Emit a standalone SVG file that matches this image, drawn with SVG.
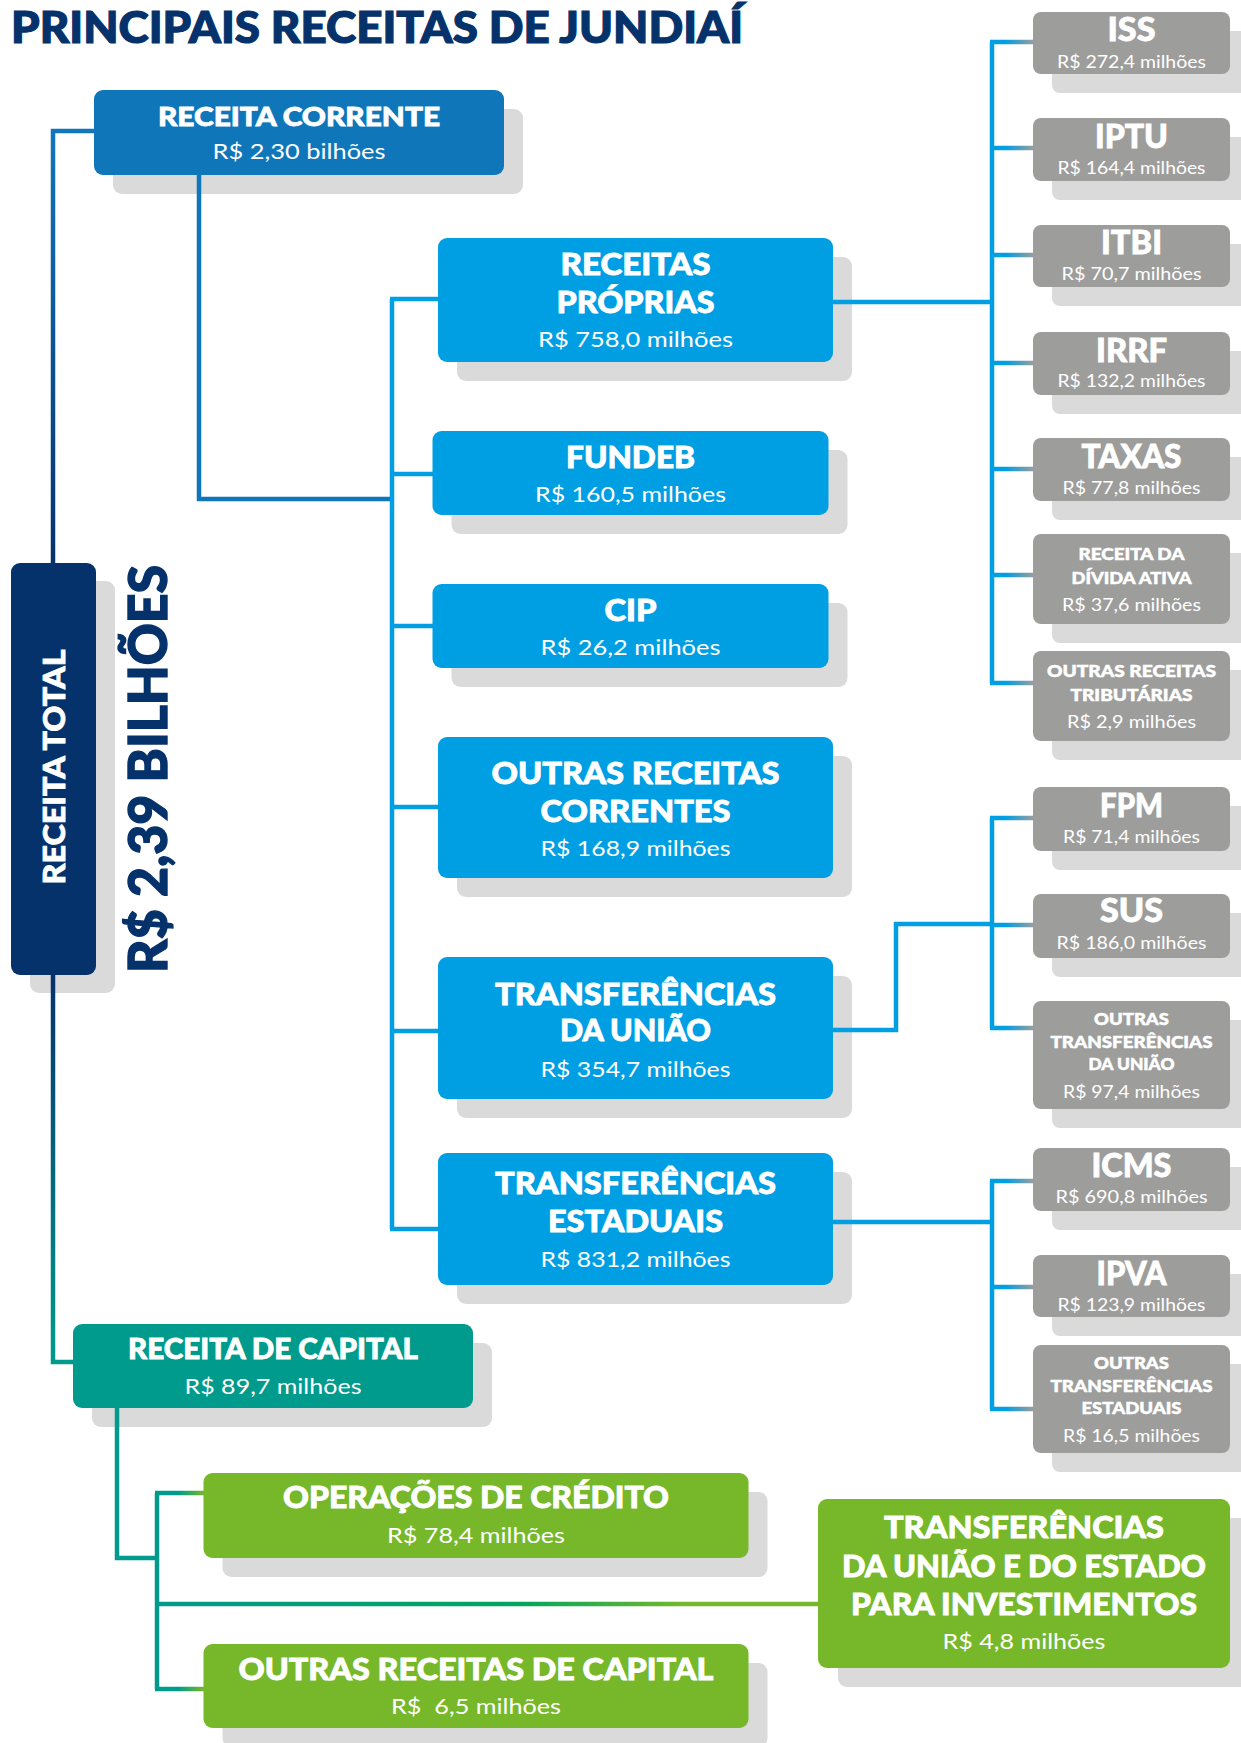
<svg xmlns="http://www.w3.org/2000/svg" width="1241" height="1743" viewBox="0 0 1241 1743">
<style>
.t{font-family:Lato,"Open Sans","Liberation Sans",sans-serif;font-weight:900;fill:#fff;text-anchor:middle;stroke:#fff;stroke-width:0.8px}
.v{font-family:Lato,"Open Sans","Liberation Sans",sans-serif;font-weight:400;fill:#fff;text-anchor:middle}
.sh{fill:#dadada}
.blue{fill:#009fe3}
.gray{fill:#9d9d9c}
.green{fill:#76b82a}
.c{fill:none;stroke-width:4.5}
.cb{stroke:#009fe3}
.gt{font-size:32px}
.gs{font-size:16.5px;stroke-width:0.5px}
.gv{font-size:17.5px}
.bt{font-size:30px}
.bv{font-size:22px}
</style>
<defs>
<linearGradient id="gBr" gradientUnits="userSpaceOnUse" x1="1006" y1="0" x2="1034" y2="0"><stop offset="0" stop-color="#009fe3"/><stop offset="1" stop-color="#9d9d9c"/></linearGradient>
<linearGradient id="gTop" gradientUnits="userSpaceOnUse" x1="0" y1="131" x2="0" y2="563"><stop offset="0" stop-color="#1176bb"/><stop offset="1" stop-color="#06326b"/></linearGradient>
<linearGradient id="gBot" gradientUnits="userSpaceOnUse" x1="0" y1="975" x2="0" y2="1362"><stop offset="0" stop-color="#06326b"/><stop offset="1" stop-color="#009b8c"/></linearGradient>
<linearGradient id="gGr" gradientUnits="userSpaceOnUse" x1="178" y1="0" x2="204" y2="0"><stop offset="0" stop-color="#009b8c"/><stop offset="1" stop-color="#76b82a"/></linearGradient>
<linearGradient id="gLong" gradientUnits="userSpaceOnUse" x1="157" y1="0" x2="817" y2="0"><stop offset="0" stop-color="#009b8c"/><stop offset="0.55" stop-color="#00a55f"/><stop offset="0.8" stop-color="#76b82a"/></linearGradient>
</defs>
<rect width="1241" height="1743" fill="#fff"/>
<text x="11" y="43" font-family="Lato,'Open Sans','Liberation Sans',sans-serif" font-weight="900" font-size="43" fill="#06326b" stroke="#06326b" stroke-width="1.2" textLength="732" lengthAdjust="spacingAndGlyphs">PRINCIPAIS RECEITAS DE JUNDIAÍ</text>

<g id="receita-total">
<rect class="sh" x="30" y="581" width="85" height="412" rx="9"/>
<rect x="11" y="563" width="85" height="412" rx="9" fill="#06326b"/>
<text class="t" transform="translate(65,767) rotate(-90)" font-size="31" textLength="235" lengthAdjust="spacingAndGlyphs">RECEITA TOTAL</text>
</g>
<g id="total-valor">
<text transform="translate(167,769) rotate(-90)" font-family="Lato,'Open Sans','Liberation Sans',sans-serif" font-weight="900" font-size="54" fill="#06326b" stroke="#06326b" stroke-width="1.4" text-anchor="middle" textLength="408" lengthAdjust="spacingAndGlyphs">R$ 2,39 BILHÕES</text>
</g>

<g id="receita-corrente">
<rect class="sh" x="113" y="109" width="410" height="85" rx="9"/>
<rect x="94" y="90" width="410" height="85" rx="9" fill="#0f76ba"/>
<text class="t" x="299" y="126" font-size="27" textLength="282" lengthAdjust="spacingAndGlyphs">RECEITA CORRENTE</text>
<text class="v bv" x="299" y="159" textLength="173" lengthAdjust="spacingAndGlyphs">R$ 2,30 bilhões</text>
</g>

<g id="receitas-proprias">
<rect class="sh" x="457" y="257" width="395" height="124" rx="9"/>
<rect class="blue" x="438" y="238" width="395" height="124" rx="9"/>
<text class="t bt" x="635.5" y="275" textLength="150" lengthAdjust="spacingAndGlyphs">RECEITAS</text>
<text class="t bt" x="635.5" y="313" textLength="158" lengthAdjust="spacingAndGlyphs">PRÓPRIAS</text>
<text class="v bv" x="635.5" y="347" textLength="195" lengthAdjust="spacingAndGlyphs">R$ 758,0 milhões</text>
</g>
<g id="fundeb">
<rect class="sh" x="451.5" y="450" width="396" height="84" rx="9"/>
<rect class="blue" x="432.5" y="431" width="396" height="84" rx="9"/>
<text class="t bt" x="630.5" y="468" textLength="129" lengthAdjust="spacingAndGlyphs">FUNDEB</text>
<text class="v bv" x="630.5" y="502" textLength="191" lengthAdjust="spacingAndGlyphs">R$ 160,5 milhões</text>
</g>
<g id="cip">
<rect class="sh" x="451.5" y="603" width="396" height="84" rx="9"/>
<rect class="blue" x="432.5" y="584" width="396" height="84" rx="9"/>
<text class="t bt" x="630.5" y="621" textLength="52" lengthAdjust="spacingAndGlyphs">CIP</text>
<text class="v bv" x="630.5" y="655" textLength="180" lengthAdjust="spacingAndGlyphs">R$ 26,2 milhões</text>
</g>
<g id="outras-receitas-correntes">
<rect class="sh" x="457" y="756" width="395" height="141" rx="9"/>
<rect class="blue" x="438" y="737" width="395" height="141" rx="9"/>
<text class="t bt" x="635.5" y="784" textLength="288" lengthAdjust="spacingAndGlyphs">OUTRAS RECEITAS</text>
<text class="t bt" x="635.5" y="822" textLength="190" lengthAdjust="spacingAndGlyphs">CORRENTES</text>
<text class="v bv" x="635.5" y="856" textLength="190" lengthAdjust="spacingAndGlyphs">R$ 168,9 milhões</text>
</g>
<g id="transferencias-uniao">
<rect class="sh" x="457" y="976" width="395" height="142" rx="9"/>
<rect class="blue" x="438" y="957" width="395" height="142" rx="9"/>
<text class="t bt" x="635.5" y="1005" textLength="281" lengthAdjust="spacingAndGlyphs">TRANSFERÊNCIAS</text>
<text class="t bt" x="635.5" y="1041" textLength="151" lengthAdjust="spacingAndGlyphs">DA UNIÃO</text>
<text class="v bv" x="635.5" y="1077" textLength="190" lengthAdjust="spacingAndGlyphs">R$ 354,7 milhões</text>
</g>
<g id="transferencias-estaduais">
<rect class="sh" x="457" y="1172" width="395" height="132" rx="9"/>
<rect class="blue" x="438" y="1153" width="395" height="132" rx="9"/>
<text class="t bt" x="635.5" y="1194" textLength="281" lengthAdjust="spacingAndGlyphs">TRANSFERÊNCIAS</text>
<text class="t bt" x="635.5" y="1232" textLength="175" lengthAdjust="spacingAndGlyphs">ESTADUAIS</text>
<text class="v bv" x="635.5" y="1267" textLength="190" lengthAdjust="spacingAndGlyphs">R$ 831,2 milhões</text>
</g>

<g id="iss">
<rect class="sh" x="1052" y="31" width="197" height="62" rx="8"/>
<rect class="gray" x="1033" y="12" width="197" height="62" rx="8"/>
<text class="t gt" x="1131.5" y="41" textLength="48" lengthAdjust="spacingAndGlyphs">ISS</text>
<text class="v gv" x="1131.5" y="68" textLength="149" lengthAdjust="spacingAndGlyphs">R$ 272,4 milhões</text>
</g>
<g id="iptu">
<rect class="sh" x="1052" y="137" width="197" height="63" rx="8"/>
<rect class="gray" x="1033" y="118" width="197" height="63" rx="8"/>
<text class="t gt" x="1131.5" y="148" textLength="73" lengthAdjust="spacingAndGlyphs">IPTU</text>
<text class="v gv" x="1131.5" y="174" textLength="148" lengthAdjust="spacingAndGlyphs">R$ 164,4 milhões</text>
</g>
<g id="itbi">
<rect class="sh" x="1052" y="244" width="197" height="62" rx="8"/>
<rect class="gray" x="1033" y="225" width="197" height="62" rx="8"/>
<text class="t gt" x="1131.5" y="254" textLength="61" lengthAdjust="spacingAndGlyphs">ITBI</text>
<text class="v gv" x="1131.5" y="280" textLength="140" lengthAdjust="spacingAndGlyphs">R$ 70,7 milhões</text>
</g>
<g id="irrf">
<rect class="sh" x="1052" y="351" width="197" height="63" rx="8"/>
<rect class="gray" x="1033" y="332" width="197" height="63" rx="8"/>
<text class="t gt" x="1131.5" y="362" textLength="71" lengthAdjust="spacingAndGlyphs">IRRF</text>
<text class="v gv" x="1131.5" y="387" textLength="148" lengthAdjust="spacingAndGlyphs">R$ 132,2 milhões</text>
</g>
<g id="taxas">
<rect class="sh" x="1052" y="457" width="197" height="63" rx="8"/>
<rect class="gray" x="1033" y="438" width="197" height="63" rx="8"/>
<text class="t gt" x="1131.5" y="468" textLength="100" lengthAdjust="spacingAndGlyphs">TAXAS</text>
<text class="v gv" x="1131.5" y="494" textLength="138" lengthAdjust="spacingAndGlyphs">R$ 77,8 milhões</text>
</g>
<g id="divida-ativa">
<rect class="sh" x="1052" y="553" width="197" height="90" rx="8"/>
<rect class="gray" x="1033" y="534" width="197" height="90" rx="8"/>
<text class="t gs" x="1131.5" y="560" textLength="106" lengthAdjust="spacingAndGlyphs">RECEITA DA</text>
<text class="t gs" x="1131.5" y="584" textLength="120" lengthAdjust="spacingAndGlyphs">DÍVIDA ATIVA</text>
<text class="v gv" x="1131.5" y="611" textLength="139" lengthAdjust="spacingAndGlyphs">R$ 37,6 milhões</text>
</g>
<g id="outras-tributarias">
<rect class="sh" x="1052" y="670" width="197" height="90" rx="8"/>
<rect class="gray" x="1033" y="651" width="197" height="90" rx="8"/>
<text class="t gs" x="1131.5" y="677" textLength="169" lengthAdjust="spacingAndGlyphs">OUTRAS RECEITAS</text>
<text class="t gs" x="1131.5" y="701" textLength="122" lengthAdjust="spacingAndGlyphs">TRIBUTÁRIAS</text>
<text class="v gv" x="1131.5" y="728" textLength="129" lengthAdjust="spacingAndGlyphs">R$ 2,9 milhões</text>
</g>
<g id="fpm">
<rect class="sh" x="1052" y="806" width="197" height="64" rx="8"/>
<rect class="gray" x="1033" y="787" width="197" height="64" rx="8"/>
<text class="t gt" x="1131.5" y="817" textLength="63" lengthAdjust="spacingAndGlyphs">FPM</text>
<text class="v gv" x="1131.5" y="843" textLength="137" lengthAdjust="spacingAndGlyphs">R$ 71,4 milhões</text>
</g>
<g id="sus">
<rect class="sh" x="1052" y="913" width="197" height="64" rx="8"/>
<rect class="gray" x="1033" y="894" width="197" height="64" rx="8"/>
<text class="t gt" x="1131.5" y="922" textLength="63" lengthAdjust="spacingAndGlyphs">SUS</text>
<text class="v gv" x="1131.5" y="949" textLength="150" lengthAdjust="spacingAndGlyphs">R$ 186,0 milhões</text>
</g>
<g id="outras-transf-uniao">
<rect class="sh" x="1052" y="1020" width="197" height="108" rx="8"/>
<rect class="gray" x="1033" y="1001" width="197" height="108" rx="8"/>
<text class="t gs" x="1131.5" y="1025" textLength="75" lengthAdjust="spacingAndGlyphs">OUTRAS</text>
<text class="t gs" x="1131.5" y="1048" textLength="162" lengthAdjust="spacingAndGlyphs">TRANSFERÊNCIAS</text>
<text class="t gs" x="1131.5" y="1070" textLength="86" lengthAdjust="spacingAndGlyphs">DA UNIÃO</text>
<text class="v gv" x="1131.5" y="1098" textLength="137" lengthAdjust="spacingAndGlyphs">R$ 97,4 milhões</text>
</g>
<g id="icms">
<rect class="sh" x="1052" y="1167" width="197" height="63" rx="8"/>
<rect class="gray" x="1033" y="1148" width="197" height="63" rx="8"/>
<text class="t gt" x="1131.5" y="1177" textLength="80" lengthAdjust="spacingAndGlyphs">ICMS</text>
<text class="v gv" x="1131.5" y="1203" textLength="152" lengthAdjust="spacingAndGlyphs">R$ 690,8 milhões</text>
</g>
<g id="ipva">
<rect class="sh" x="1052" y="1274" width="197" height="62" rx="8"/>
<rect class="gray" x="1033" y="1255" width="197" height="62" rx="8"/>
<text class="t gt" x="1131.5" y="1285" textLength="70" lengthAdjust="spacingAndGlyphs">IPVA</text>
<text class="v gv" x="1131.5" y="1311" textLength="148" lengthAdjust="spacingAndGlyphs">R$ 123,9 milhões</text>
</g>
<g id="outras-transf-estaduais">
<rect class="sh" x="1052" y="1364" width="197" height="108" rx="8"/>
<rect class="gray" x="1033" y="1345" width="197" height="108" rx="8"/>
<text class="t gs" x="1131.5" y="1369" textLength="75" lengthAdjust="spacingAndGlyphs">OUTRAS</text>
<text class="t gs" x="1131.5" y="1392" textLength="162" lengthAdjust="spacingAndGlyphs">TRANSFERÊNCIAS</text>
<text class="t gs" x="1131.5" y="1414" textLength="100" lengthAdjust="spacingAndGlyphs">ESTADUAIS</text>
<text class="v gv" x="1131.5" y="1442" textLength="137" lengthAdjust="spacingAndGlyphs">R$ 16,5 milhões</text>
</g>

<g id="receita-capital">
<rect class="sh" x="92" y="1343" width="400" height="84" rx="9"/>
<rect x="73" y="1324" width="400" height="84" rx="9" fill="#009b8c"/>
<text class="t" x="273" y="1359" font-size="29" textLength="290" lengthAdjust="spacingAndGlyphs">RECEITA DE CAPITAL</text>
<text class="v bv" x="273" y="1394" textLength="177" lengthAdjust="spacingAndGlyphs">R$ 89,7 milhões</text>
</g>
<g id="operacoes-credito">
<rect class="sh" x="222.5" y="1492" width="545" height="85" rx="9"/>
<rect class="green" x="203.5" y="1473" width="545" height="85" rx="9"/>
<text class="t bt" x="476" y="1508" textLength="386" lengthAdjust="spacingAndGlyphs">OPERAÇÕES DE CRÉDITO</text>
<text class="v bv" x="476" y="1543" textLength="178" lengthAdjust="spacingAndGlyphs">R$ 78,4 milhões</text>
</g>
<g id="outras-receitas-capital">
<rect class="sh" x="222.5" y="1663" width="545" height="84" rx="9"/>
<rect class="green" x="203.5" y="1644" width="545" height="84" rx="9"/>
<text class="t bt" x="476" y="1680" textLength="475" lengthAdjust="spacingAndGlyphs">OUTRAS RECEITAS DE CAPITAL</text>
<text class="v bv" x="476" y="1714" textLength="170" lengthAdjust="spacingAndGlyphs" xml:space="preserve">R$  6,5 milhões</text>
</g>
<g id="transf-investimentos">
<rect class="sh" x="838" y="1518" width="413" height="169" rx="9"/>
<rect class="green" x="818" y="1499" width="412" height="169" rx="9"/>
<text class="t bt" x="1024" y="1538" textLength="280" lengthAdjust="spacingAndGlyphs">TRANSFERÊNCIAS</text>
<text class="t bt" x="1024" y="1577" textLength="364" lengthAdjust="spacingAndGlyphs">DA UNIÃO E DO ESTADO</text>
<text class="t bt" x="1024" y="1615" textLength="346" lengthAdjust="spacingAndGlyphs">PARA INVESTIMENTOS</text>
<text class="v bv" x="1024" y="1649" textLength="163" lengthAdjust="spacingAndGlyphs">R$ 4,8 milhões</text>
</g>

<g id="connectors">
<path class="c" stroke="url(#gTop)" d="M96 131H53V563"/>
<path class="c" stroke="url(#gBot)" d="M53 975V1362H73"/>
<path class="c" stroke="#0f76ba" d="M199 175V499H392"/>
<path class="c cb" d="M392 299V1229M390 299H438M390 474H433M390 626H433M390 807H438M390 1031H438M390 1229H438"/>
<path class="c cb" d="M833 302H992M992 42V683M833 1030H896V924H992M992 818V1028M833 1222H992M992 1181V1409"/>
<path class="c" stroke="url(#gBr)" d="M990 42H1034M990 148H1034M990 255H1034M990 363H1034M990 469H1034M990 575H1034M990 683H1034M990 818H1034M990 925H1034M990 1028H1034M990 1181H1034M990 1287H1034M990 1409H1034"/>
<path class="c" stroke="#009b8c" d="M117 1408V1558H157M157 1493V1689"/>
<path class="c" stroke="url(#gGr)" d="M155 1493H204M155 1689H204"/>
<path class="c" stroke="url(#gLong)" d="M155 1604H819"/>
</g>
</svg>
